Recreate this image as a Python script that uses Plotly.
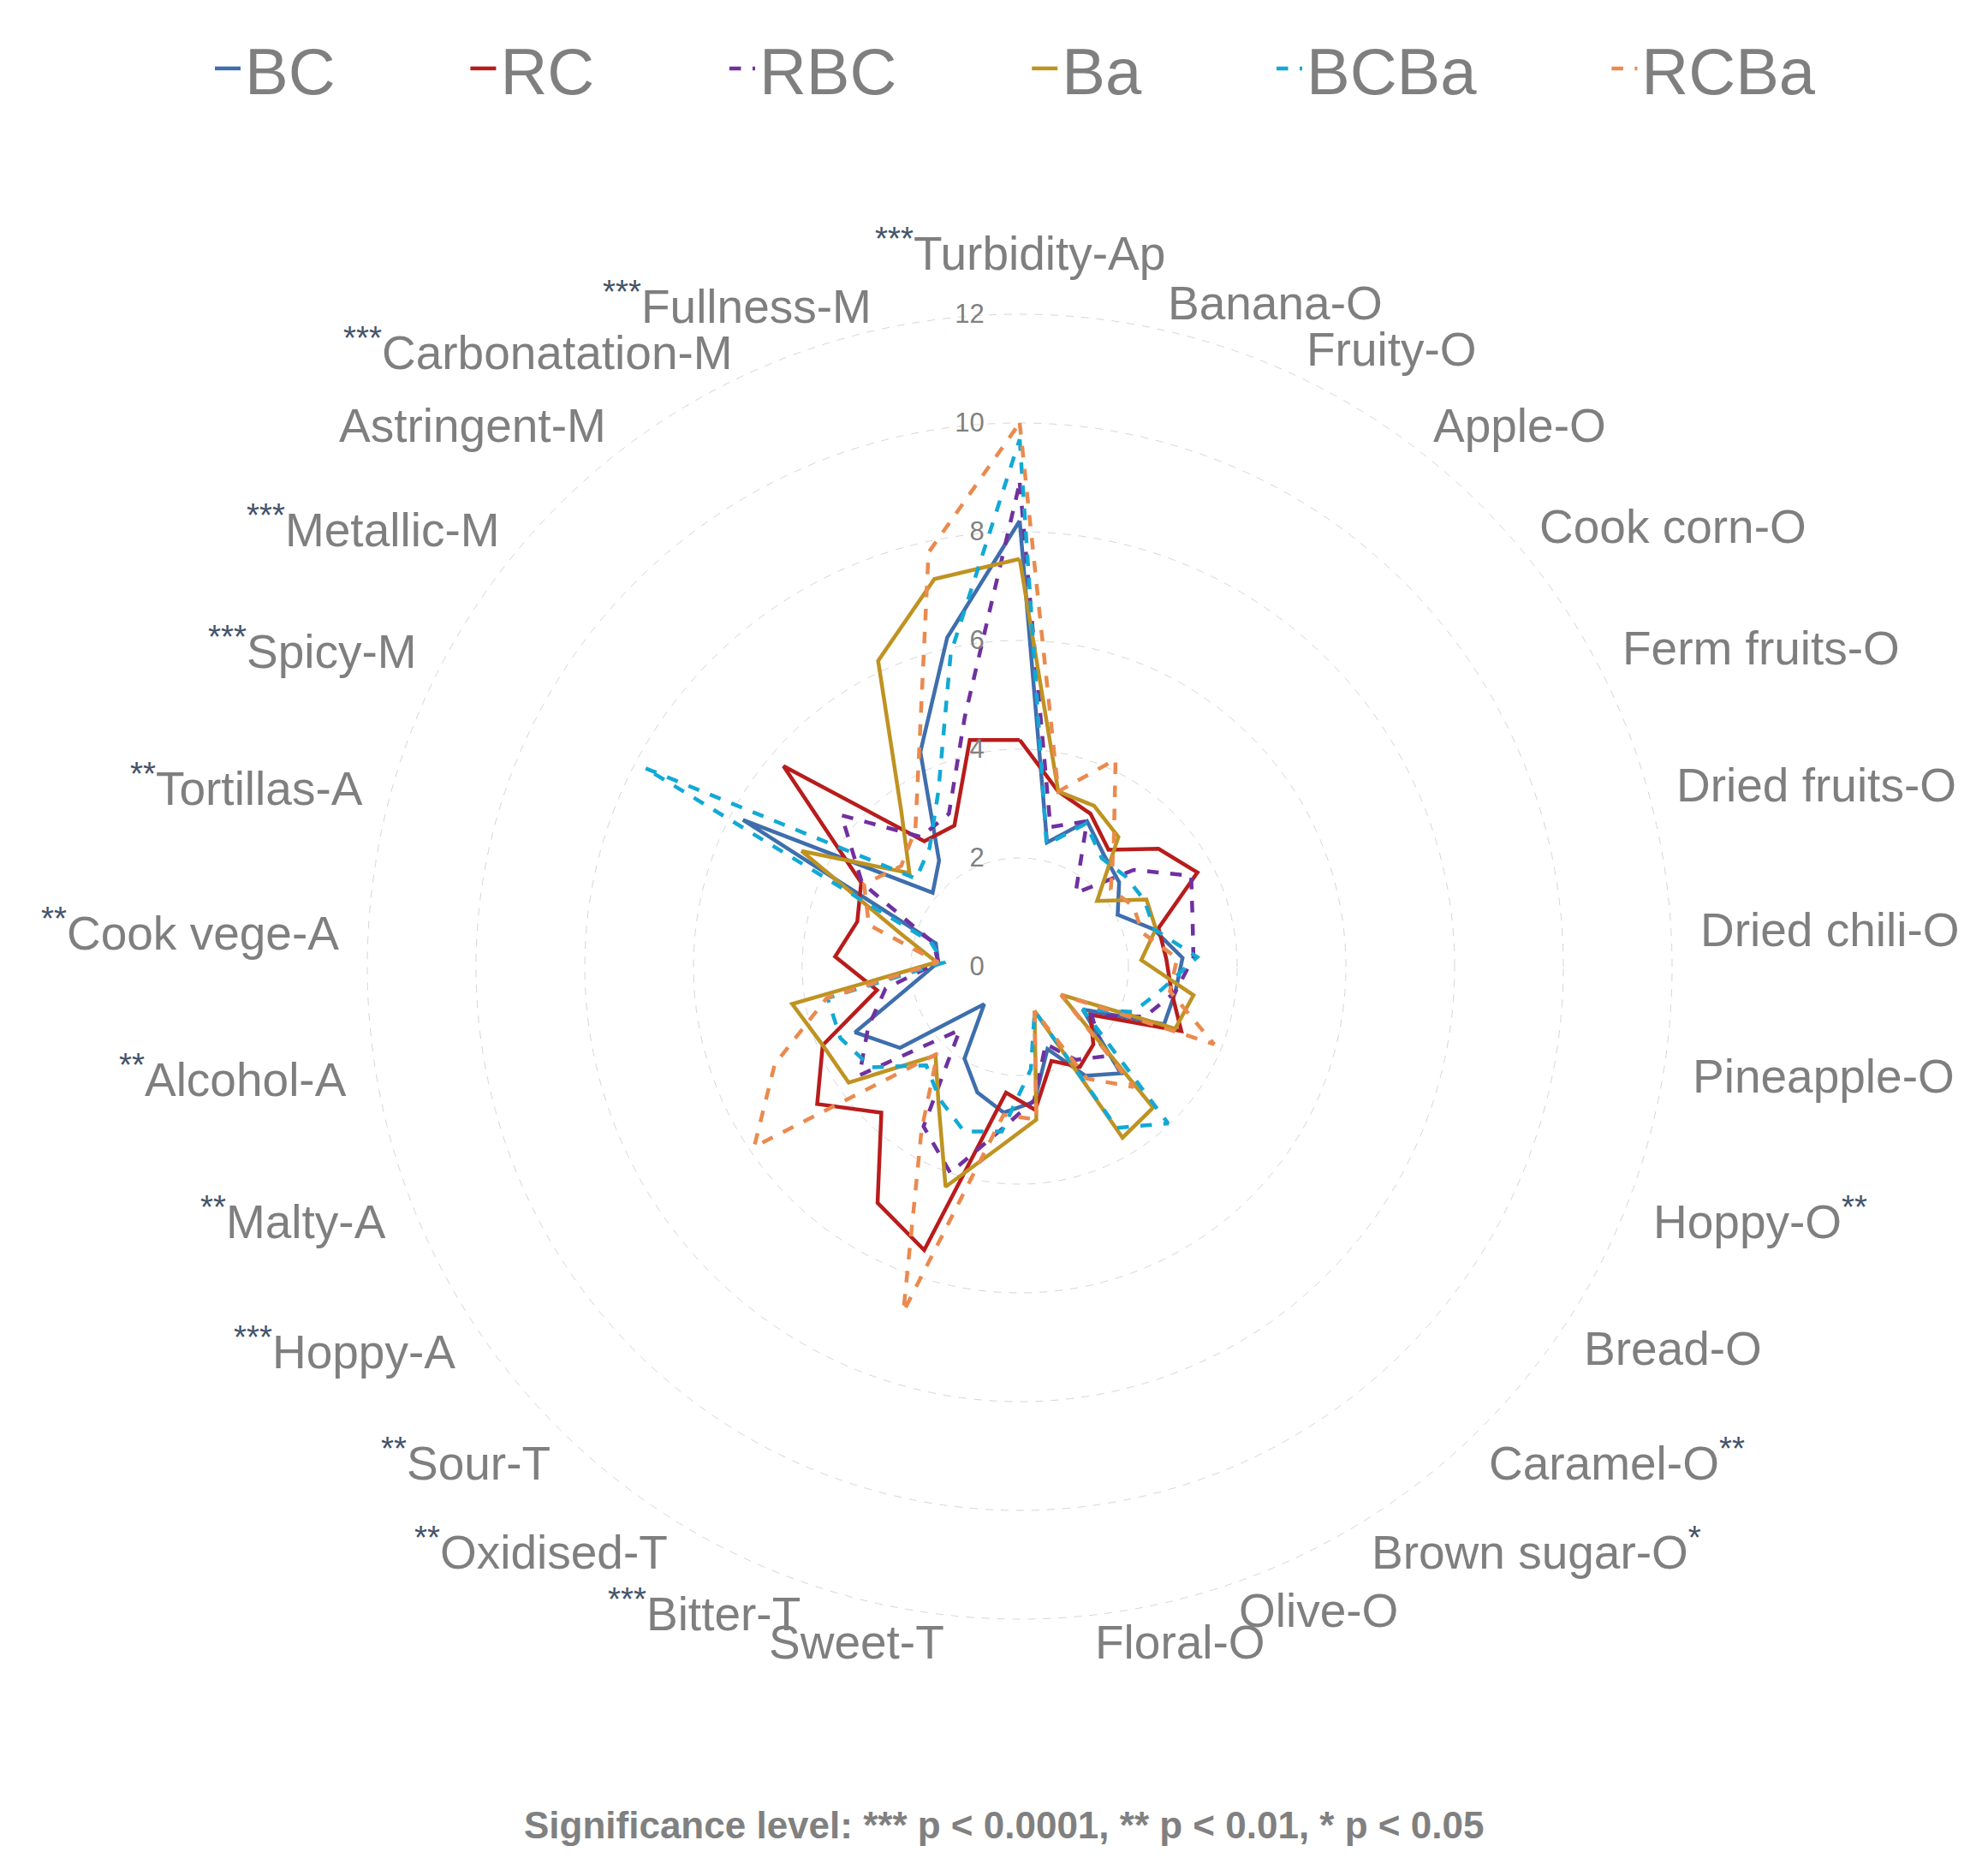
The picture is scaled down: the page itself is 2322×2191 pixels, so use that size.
import math
import plotly.graph_objects as go

categories = ["Turbidity-Ap", "Banana-O", "Fruity-O", "Apple-O", "Cook corn-O", "Ferm fruits-O",
              "Dried fruits-O", "Dried chili-O", "Pineapple-O", "Hoppy-O", "Bread-O", "Caramel-O",
              "Brown sugar-O", "Olive-O", "Floral-O", "Sweet-T", "Bitter-T", "Oxidised-T", "Sour-T",
              "Hoppy-A", "Malty-A", "Alcohol-A", "Cook vege-A", "Tortillas-A", "Spicy-M",
              "Metallic-M", "Astringent-M", "Carbonatation-M", "Fullness-M"]
# significance marks: (prefix, suffix)
sig_prefix = ["***", "", "", "", "", "", "", "", "", "", "", "", "", "", "", "", "***", "**", "**",
              "***", "**", "**", "**", "**", "***", "***", "", "***", "***"]
sig_suffix = ["", "", "", "", "", "", "", "", "", "**", "", "**", "*", "", "", "", "", "", "",
              "", "", "", "", "", "", "", "", "", ""]

BC = [8.2, 2.34, 2.95, 2.57, 2.4, 2.04, 2.56, 3.0, 2.9, 2.86, 1.4, 2.7, 2.34, 1.6, 2.5, 2.7, 2.44,
      1.97, 0.95, 2.66, 3.26, 2.0, 1.5, 1.6, 5.76, 2.1, 2.45, 4.35, 6.2]
RC = [4.17, 3.3, 3.1, 2.7, 3.35, 3.7, 2.65, 2.7, 2.83, 3.2, 1.57, 1.97, 2.15, 1.83, 2.65, 2.33, 5.5,
      5.07, 3.7, 4.5, 3.9, 2.66, 3.4, 3.1, 3.3, 5.7, 2.9, 2.86, 4.27]
RBC = [8.9, 2.63, 2.95, 1.7, 2.75, 3.57, 3.3, 3.2, 2.9, 2.48, 1.6, 2.27, 2.0, 1.5, 2.47, 3.0, 4.0,
       3.43, 1.6, 3.56, 3.0, 2.5, 1.5, 1.65, 3.28, 4.3, 3.0, 3.1, 4.7]
Ba = [7.5, 3.3, 3.26, 3.0, 1.87, 2.64, 2.6, 2.24, 3.24, 3.08, 0.92, 3.57, 3.67, 0.86, 2.83, 3.33, 4.27,
      2.9, 2.25, 3.8, 3.9, 4.24, 1.53, 2.27, 4.54, 2.66, 3.6, 6.2, 7.3]
BCBa = [9.7, 2.3, 2.9, 2.5, 2.56, 2.6, 2.57, 3.27, 2.64, 2.25, 1.4, 3.97, 3.46, 0.86, 1.9, 3.05, 3.2,
        2.85, 2.5, 3.3, 3.55, 3.58, 1.4, 1.7, 7.8, 2.5, 2.74, 3.56, 5.9]
RCBa = [10.0, 3.3, 4.2, 2.86, 2.2, 2.37, 2.34, 2.9, 2.8, 3.85, 0.92, 3.05, 2.4, 0.86, 2.83, 2.74, 6.7,
        3.5, 2.2, 5.9, 4.85, 3.6, 1.5, 2.88, 3.24, 2.86, 3.17, 4.4, 7.8]

series = [
    ("BC", BC, "#3F6EAD", "solid"),
    ("RC", RC, "#B81C1C", "solid"),
    ("RBC", RBC, "#7030A0", "dash"),
    ("Ba", Ba, "#BF9322", "solid"),
    ("BCBa", BCBa, "#12A9D5", "dash"),
    ("RCBa", RCBa, "#EA8A4E", "dash"),
]

STAR = "#44546A"
labels = []
for c, p, s in zip(categories, sig_prefix, sig_suffix):
    t = c
    if p:
        t = f"<span style='color:{STAR}'><sup>{p}</sup></span>" + t
    if s:
        t = t + f"<span style='color:{STAR}'><sup>{s}</sup></span>"
    labels.append(t)

PAD = "\u00a0" * 7
fig = go.Figure()
for k, (name, vals, color, dash) in enumerate(series):
    fig.add_trace(go.Scatterpolar(
        r=vals + vals[:1],
        theta=categories + categories[:1],
        mode="lines",
        name=name + (PAD if k < len(series) - 1 else ""),
        line=dict(color=color, width=4.5, dash=dash),
    ))

W, H = 2322, 2191
cx, cy = 1183, 1121
RMAX = 12.02
UNIT = 63.5
R = UNIT * RMAX

# category labels placed around the outer ring (layout only)
LABEL_R = 794
annotations = []
n = len(categories)
for i, lab in enumerate(labels):
    a = math.radians(i * 360.0 / n)
    s, c = math.sin(a), math.cos(a)
    if abs(s) < 0.05:
        px, py = cx, cy - 800 * c
        xa, ya = "center", "bottom"
    else:
        px, py = cx + LABEL_R * s, cy - LABEL_R * c
        xa, ya = ("left" if s > 0 else "right"), "middle"
    annotations.append(dict(
        text=lab, x=px / W, y=1 - py / H, xref="paper", yref="paper",
        xanchor=xa, yanchor=ya, showarrow=False,
        font=dict(size=55, color="#7F7F7F"),
    ))

annotations.append(dict(
    text="<b>Significance level: *** p < 0.0001, ** p < 0.01, * p < 0.05</b>",
    x=1164 / W, y=1 - 2150 / H, xref="paper", yref="paper", showarrow=False,
    font=dict(size=44, color="#808080"),
))

fig.update_layout(
    width=W, height=H,
    margin=dict(l=0, r=0, t=0, b=0, autoexpand=False),
    paper_bgcolor="white",
    plot_bgcolor="white",
    font=dict(family="Liberation Sans, Arial, sans-serif", color="#7F7F7F"),
    polar=dict(
        domain=dict(x=[(cx - R) / W, (cx + R) / W], y=[1 - (cy + R) / H, 1 - (cy - R) / H]),
        bgcolor="white",
        radialaxis=dict(
            range=[0, RMAX], tickvals=[0, 2, 4, 6, 8, 10, 12], angle=90, tickangle=90,
            side="counterclockwise",
            showline=False, ticks="outside", ticklen=30, tickcolor="rgba(0,0,0,0)",
            gridcolor="#D6D6D6", griddash="dash", gridwidth=1,
            tickfont=dict(size=31, color="#808080"),
        ),
        angularaxis=dict(
            direction="clockwise", rotation=90, showgrid=False, showline=False,
            showticklabels=False, ticks="",
        ),
    ),
    legend=dict(
        orientation="h", x=0.1025, y=1 - 72 / H, xanchor="left", yanchor="middle",
        font=dict(size=76, color="#7F7F7F"), itemwidth=30,
    ),
    annotations=annotations,
)

fig.write_html("out.html")
